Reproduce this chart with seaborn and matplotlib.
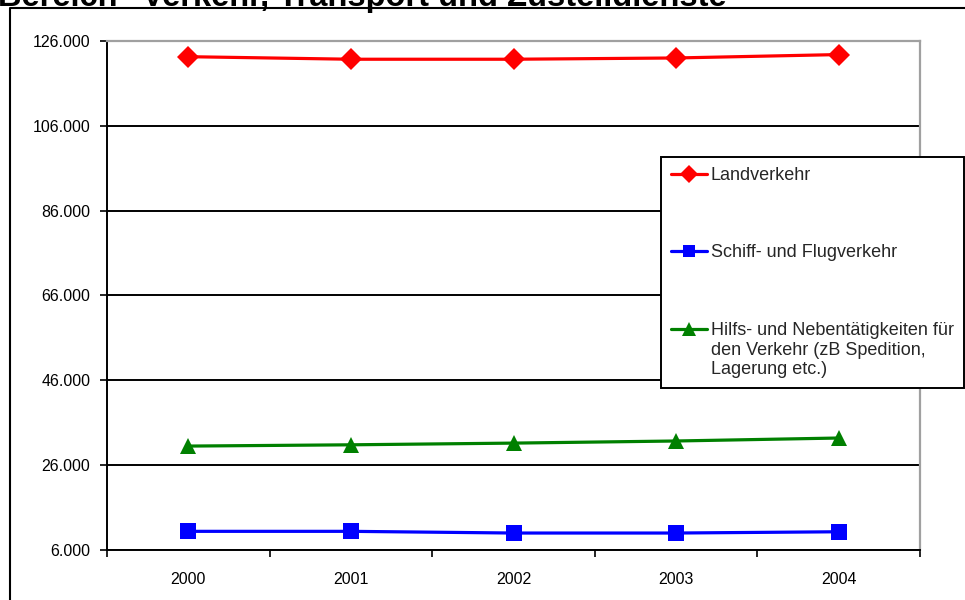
import matplotlib
matplotlib.use('Agg')
import matplotlib.pyplot as plt
import matplotlib.lines as mlines
from matplotlib.legend_handler import HandlerLine2D
import seaborn as sns
import pandas as pd

# =============================================================================
# 1. DADOS
# =============================================================================
jahre = [2000, 2001, 2002, 2003, 2004]
landverkehr = [122300, 121700, 121700, 122000, 122800]
schiff_flug = [10400, 10400, 10000, 10000, 10300]
hilfs_neben = [30500, 30800, 31200, 31700, 32400]

serien = ['Landverkehr',
          'Schiff- und Flugverkehr',
          'Hilfs- und Nebentätigkeiten für\nden Verkehr (zB Spedition,\nLagerung etc.)']
y_ticks = [6000, 26000, 46000, 66000, 86000, 106000, 126000]
titel = 'Bereich "Verkehr, Transport und Zustelldienste"'

df = pd.DataFrame({'Jahr': jahre,
                   serien[0]: landverkehr,
                   serien[1]: schiff_flug,
                   serien[2]: hilfs_neben})

farben = {serien[0]: '#ff0000', serien[1]: '#0000ff', serien[2]: '#008000'}
marker = {serien[0]: 'D', serien[1]: 's', serien[2]: '^'}
groesse = {serien[0]: 11, serien[1]: 11, serien[2]: 12}


# Legendensymbol auf Höhe der ersten Textzeile (mehrzeilige Beschriftung)
class ObenHandler(HandlerLine2D):
    def __init__(self, shift, **kw):
        super().__init__(**kw)
        self.shift = shift

    def create_artists(self, legend, orig_handle, xdescent, ydescent,
                       width, height, fontsize, trans):
        artists = super().create_artists(legend, orig_handle, xdescent, ydescent,
                                         width, height, fontsize, trans)
        for a in artists:
            a.set_ydata([y + self.shift * fontsize for y in a.get_ydata()])
        return artists


# =============================================================================
# 2. GRAFIK
# =============================================================================
sns.set_theme(style="white")
plt.rcParams['font.family'] = ['Liberation Sans', 'DejaVu Sans']

fig = plt.figure(figsize=(9.65, 6), dpi=100)
ax = fig.add_axes([107 / 965, 1 - 550 / 600, 813 / 965, 509 / 600])

linien = {}
for s in serien:
    sns.lineplot(data=df, x='Jahr', y=s, ax=ax, label=s, color=farben[s],
                 marker=marker[s], markersize=groesse[s], markeredgewidth=0,
                 linewidth=2.3)
    linien[s] = ax.get_lines()[-1]

ax.set_xlim(1999.5, 2004.5)
ax.set_ylim(6000, 126000)
ax.set_xlabel('')
ax.set_ylabel('')

# Achse X: Striche zwischen den Kategorien, Beschriftung in der Mitte
ax.set_xticks([j - 0.5 for j in jahre] + [jahre[-1] + 0.5])
ax.set_xticklabels([])
ax.set_xticks(jahre, minor=True)
ax.set_xticklabels([str(j) for j in jahre], minor=True)
ax.tick_params(axis='x', which='major', direction='out', length=5, width=1.2,
               color='black', bottom=True)
ax.tick_params(axis='x', which='minor', length=0, pad=16, labelsize=11.5,
               labelcolor='black')

# Achse Y
ax.set_yticks(y_ticks)
ax.set_yticklabels([f'{v:,.0f}'.replace(',', '.') for v in y_ticks])
ax.tick_params(axis='y', direction='out', length=5, width=1.2, color='black',
               left=True, pad=7, labelsize=11.5, labelcolor='black')

ax.grid(axis='y', color='black', linewidth=1.4)
ax.grid(axis='x', visible=False)
ax.set_axisbelow(True)

for seite in ['left', 'bottom']:
    ax.spines[seite].set_color('black')
    ax.spines[seite].set_linewidth(1.4)
for seite in ['top', 'right']:
    ax.spines[seite].set_color('#a0a0a0')
    ax.spines[seite].set_linewidth(1.6)

leg = ax.legend(loc='upper left', bbox_to_anchor=(661 / 965, 1 - 157 / 600),
                bbox_transform=fig.transFigure, borderaxespad=0, fontsize=13,
                frameon=True, fancybox=False, framealpha=1, edgecolor='black',
                labelspacing=3.35, handlelength=2.0, handletextpad=0.2,
                borderpad=0.55, markerscale=0.8,
                handler_map={linien[serien[2]]: ObenHandler(1.2)})
leg.get_frame().set_linewidth(1.4)

# Rahmen der Grafik und abgeschnittener Titel
fig.add_artist(mlines.Line2D([10 / 965, 10 / 965, 1.0], [0.0, 1 - 8 / 600, 1 - 8 / 600],
                             transform=fig.transFigure, color='black', linewidth=1.5))
fig.text(-0.002, 1 - 6 / 600, titel, fontsize=23.5, fontweight='bold',
         ha='left', va='baseline', color='black')

fig.savefig('out.png', dpi=100)
plt.close(fig)
